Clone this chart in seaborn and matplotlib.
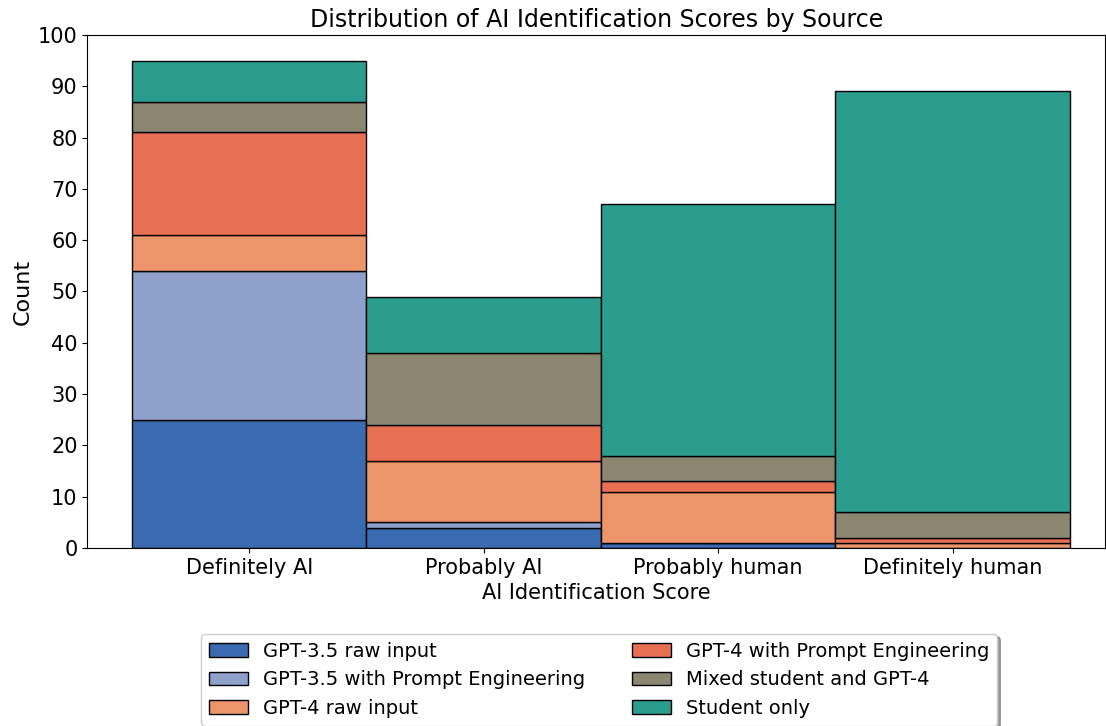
import pandas as pd
import matplotlib.pyplot as plt
import seaborn as sns
from matplotlib.patches import Patch

# categories on the x axis
scores = ["Definitely AI", "Probably AI", "Probably human", "Definitely human"]
# sources, bottom to top of the stack
sources = ["GPT-3.5 raw input", "GPT-3.5 with Prompt Engineering", "GPT-4 raw input",
           "GPT-4 with Prompt Engineering", "Mixed student and GPT-4", "Student only"]
colors = ["#3a6bb0", "#8da1cb", "#ec956a", "#e77052", "#8a8670", "#2a9d8f"]
# counts per source, one value per score
gpt35_raw = [25, 4, 1, 0]
gpt35_pe = [29, 1, 0, 0]
gpt4_raw = [7, 12, 10, 1]
gpt4_pe = [20, 7, 2, 1]
mixed = [6, 14, 5, 5]
student = [8, 11, 49, 82]

counts = [gpt35_raw, gpt35_pe, gpt4_raw, gpt4_pe, mixed, student]
rows = []
for src, vals in zip(sources, counts):
    for sc, v in zip(scores, vals):
        rows.append({"score": sc, "source": src, "count": v})
data = pd.DataFrame(rows)

sns.set_style("ticks")
plt.rcParams.update({
    "font.size": 15,
    "text.color": "black",
    "axes.labelcolor": "black",
    "axes.edgecolor": "black",
    "xtick.color": "black",
    "ytick.color": "black",
})

fig, ax = plt.subplots(figsize=(11.06, 7.26), dpi=100)
fig.subplots_adjust(left=0.079, right=0.999, top=0.952, bottom=0.245)

# seaborn stacks the first hue level on top, so pass the order reversed
sns.histplot(data=data, x="score", hue="source", weights="count",
             hue_order=sources[::-1], palette=colors[::-1],
             multiple="stack", discrete=True, alpha=1,
             edgecolor="black", linewidth=1, legend=False, ax=ax)

ax.set_xlim(-0.69, 3.65)
ax.set_ylim(0, 100)
ax.set_yticks(range(0, 101, 10))
ax.set_title("Distribution of AI Identification Scores by Source", fontsize=17)
ax.set_xlabel("AI Identification Score", fontsize=15)
ax.set_ylabel("Count", fontsize=16)

handles = [Patch(facecolor=c, edgecolor="black", label=s) for s, c in zip(sources, colors)]
ax.legend(handles=handles, loc="upper center", bbox_to_anchor=(0.503, -0.148),
          ncol=2, shadow=True, fontsize=14, frameon=True, columnspacing=2.4)

plt.savefig("out.png", dpi=100)
